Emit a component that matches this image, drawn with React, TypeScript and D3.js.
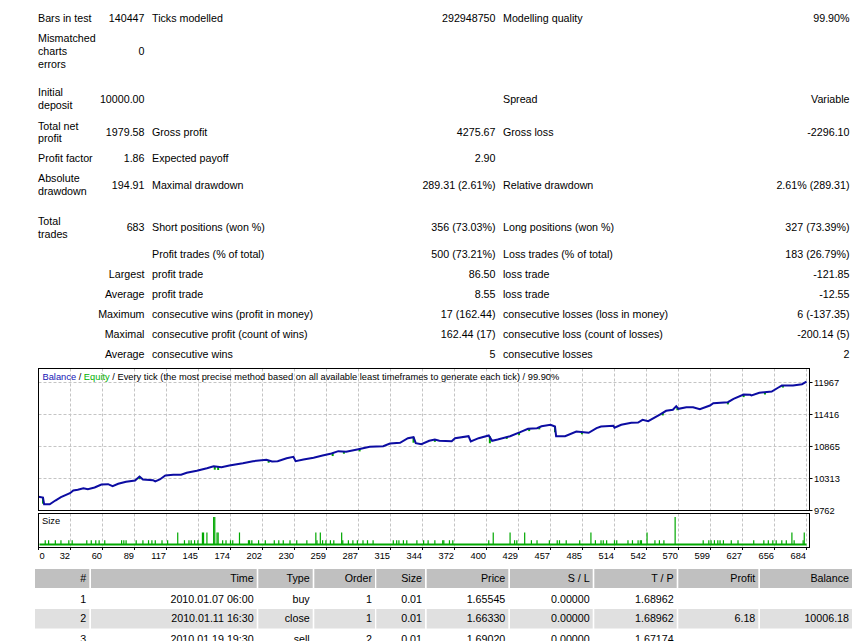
import React, { useEffect, useRef } from 'react';
import * as d3 from 'd3';

// report summary, one row per line of the header table
const statCells: string[][] = [
    ['Bars in test', '140447', 'Ticks modelled', '292948750', 'Modelling quality', '99.90%'],
    ['Mismatched\ncharts\nerrors', '0', '', '', '', ''],
    ['Initial\ndeposit', '10000.00', '', '', 'Spread', 'Variable'],
    ['Total net\nprofit', '1979.58', 'Gross profit', '4275.67', 'Gross loss', '-2296.10'],
    ['Profit factor', '1.86', 'Expected payoff', '2.90', '', ''],
    ['Absolute\ndrawdown', '194.91', 'Maximal drawdown', '289.31 (2.61%)', 'Relative drawdown', '2.61% (289.31)'],
    ['Total\ntrades', '683', 'Short positions (won %)', '356 (73.03%)', 'Long positions (won %)', '327 (73.39%)'],
    ['', '', 'Profit trades (% of total)', '500 (73.21%)', 'Loss trades (% of total)', '183 (26.79%)'],
    ['', 'Largest', 'profit trade', '86.50', 'loss trade', '-121.85'],
    ['', 'Average', 'profit trade', '8.55', 'loss trade', '-12.55'],
    ['', 'Maximum', 'consecutive wins (profit in money)', '17 (162.44)', 'consecutive losses (loss in money)', '6 (-137.35)'],
    ['', 'Maximal', 'consecutive profit (count of wins)', '162.44 (17)', 'consecutive loss (count of losses)', '-200.14 (5)'],
    ['', 'Average', 'consecutive wins', '5', 'consecutive losses', '2'],
];

// balance after trade #n  [trade, balance]
const balancePoints: [number, number][] = [
    [0, 10000], [4, 9985], [5, 9869], [10, 9870], [15, 9934], [20, 9991], [28, 10060], [31, 10107],
    [35, 10119], [40, 10146], [44, 10129], [50, 10158], [56, 10210], [62, 10215], [66, 10181],
    [71, 10222], [78, 10256], [86, 10279], [90, 10348], [93, 10296], [102, 10284], [104, 10262],
    [108, 10296], [113, 10365], [120, 10377], [127, 10377], [132, 10411], [141, 10446], [150, 10491],
    [156, 10525], [163, 10508], [170, 10537], [182, 10577], [191, 10611], [203, 10635], [208, 10606],
    [213, 10611], [221, 10663], [227, 10687], [229, 10611], [236, 10641], [245, 10670], [253, 10709],
    [261, 10744], [267, 10784], [274, 10773], [285, 10818], [295, 10859], [307, 10870], [313, 10916],
    [322, 10928], [329, 11007], [334, 11025], [336, 10921], [341, 10904], [348, 10963], [353, 10985],
    [357, 10963], [368, 10956], [371, 11008], [383, 11042], [385, 10951], [392, 11008], [401, 11054],
    [404, 10963], [409, 10985], [420, 11042], [429, 11111], [436, 11169], [444, 11180], [448, 11214],
    [456, 11238], [460, 11209], [461, 11042], [469, 11042], [479, 11123], [490, 11101], [497, 11180],
    [501, 11209], [512, 11221], [513, 11187], [519, 11238], [528, 11273], [534, 11278], [538, 11324],
    [543, 11300], [553, 11411], [559, 11480], [565, 11497], [568, 11559], [570, 11514], [577, 11542],
    [583, 11542], [589, 11507], [598, 11571], [601, 11610], [614, 11628], [619, 11686], [628, 11760],
    [634, 11755], [635, 11743], [642, 11790], [653, 11812], [659, 11881], [662, 11915], [672, 11915],
    [680, 11938], [684, 11980],
];

// equity drops below balance  [trade, from, to]
const equityDips: [number, number, number][] = [
    [4, 9985, 9880], [90, 10348, 10300], [157, 10520, 10465], [160, 10512, 10460], [205, 10630, 10585],
    [262, 10746, 10700], [272, 10778, 10740], [286, 10820, 10780], [334, 11025, 10930], [353, 10985, 10945],
    [402, 11040, 10920], [417, 11035, 10995], [428, 11100, 11060], [437, 11170, 11130], [446, 11195, 11160],
    [460, 11209, 11110], [484, 11115, 11075], [556, 11440, 11400], [569, 11540, 11490], [614, 11628, 11590],
    [628, 11760, 11715], [647, 11800, 11760], [663, 11915, 11880],
];

const minLot = 0.01;
// trades opened with more than the minimum lot  [trade, lots]
const sizeSpikes: [number, number][] = [
    [6, .02], [9, .02], [15, .02], [20, .02], [27, .02], [30, .02], [43, .02], [47, .02], [51, .02], [54, .02],
    [59, .02], [74, .02], [76, .02], [78, .02], [87, .02], [93, .02], [98, .02], [101, .02], [104, .02],
    [110, .02], [115, .02], [124, .04], [130, .02], [134, .02], [136, .02], [139, .02], [142, .02], [146, .04],
    [147, .04], [150, .04], [156, .08], [157, .08], [159, .04], [160, .04], [164, .02], [167, .02], [171, .02],
    [173, .02], [179, .04], [187, .02], [188, .02], [190, .02], [196, .02], [202, .02], [210, .02], [214, .02],
    [218, .02], [224, .02], [230, .02], [239, .02], [247, .04], [248, .02], [251, .04], [253, .02], [256, .02],
    [260, .02], [263, .02], [270, .04], [271, .02], [276, .02], [280, .02], [284, .02], [289, .02], [293, .02],
    [298, .02], [316, .02], [319, .02], [321, .02], [325, .02], [328, .02], [337, .02], [343, .02], [347, .02],
    [353, .02], [360, .02], [361, .02], [366, .02], [369, .02], [401, .02], [405, .04], [420, .04], [424, .02],
    [426, .02], [433, .04], [439, .02], [444, .02], [455, .02], [462, .02], [464, .02], [470, .02], [482, .02],
    [492, .04], [496, .02], [501, .02], [503, .02], [506, .02], [513, .02], [515, .02], [525, .02], [529, .02],
    [534, .02], [536, .02], [537, .02], [542, .04], [549, .02], [553, .02], [557, .02], [567, .08], [592, .02],
    [597, .02], [599, .02], [602, .02], [605, .02], [607, .02], [610, .02], [617, .02], [623, .02], [637, .02],
    [646, .02], [650, .02], [654, .02], [657, .02], [662, .02], [666, .02], [671, .04], [673, .02], [681, .02],
    [682, .04],
];

const xTickLabels = ['0', '32', '60', '89', '117', '145', '174', '202', '230', '259', '287', '315', '344',
    '372', '400', '429', '457', '485', '514', '542', '570', '599', '627', '656', '684'];
const yTicks = [9762, 10313, 10865, 11416, 11967];

const tableHeader = ['#', 'Time', 'Type', 'Order', 'Size', 'Price', 'S / L', 'T / P', 'Profit', 'Balance'];
const tableRows: string[][] = [
    ['1', '2010.01.07 06:00', 'buy', '1', '0.01', '1.65545', '0.00000', '1.68962', '', ''],
    ['2', '2010.01.11 16:30', 'close', '1', '0.01', '1.66330', '0.00000', '1.68962', '6.18', '10006.18'],
    ['3', '2010.01.19 19:30', 'sell', '2', '0.01', '1.69020', '0.00000', '1.67174', '', ''],
];

export default function App() {
    const ref = useRef<SVGSVGElement>(null);

    useEffect(() => {
        makeChart();
    }, []);

    const makeChart = () => {
        const svg = d3.select(ref.current);
        svg.selectAll('*').remove();
        const font = "'Liberation Sans', Arial, sans-serif";
        const fs = '10.7px';
        const chartFs = '9.3px';

        const addText = (x: number, y: number, s: string, anchor: string, size = fs) =>
            svg.append('text')
                .attr('x', x).attr('y', y).attr('dy', '0.35em')
                .attr('text-anchor', anchor)
                .attr('font-family', font).attr('font-size', size)
                .attr('fill', '#000')
                .text(s);

        // summary table
        const statX = [38, 144.5, 152, 495.5, 503, 849.5];
        const statAnchor = ['start', 'end', 'start', 'end', 'start', 'end'];
        const statY = [18, 51, 99, 132.3, 158.7, 185, 227.5, 254, 274, 294, 314, 334, 354];
        statCells.forEach((row, r) => {
            row.forEach((cell, c) => {
                if (!cell) return;
                const lines = cell.split('\n');
                lines.forEach((ln, i) => {
                    addText(statX[c], statY[r] + (i - (lines.length - 1) / 2) * 12.8, ln, statAnchor[c]);
                });
            });
        });

        // chart frame
        const left = 38.5, right = 809.5, top = 368.5, bottom = 510.5;
        const sTop = 513.5, sBottom = 547.5;

        const xPos = d3.scalePoint().domain(xTickLabels).range([38.5, 806.5]);
        const x = d3.scaleLinear().domain([0, 684]).range([38.5, 806.5]);
        const y = d3.scaleLinear().domain([9762, 11967]).range([510.5, 382.5]);
        const ys = d3.scaleLinear().domain([0.005, 0.08]).range([546, 517]);

        // grid
        const grid = svg.append('g')
            .attr('stroke', '#c4c4c4').attr('stroke-dasharray', '3,2').attr('stroke-width', 1);
        xTickLabels.slice(1).forEach((l) => {
            const gx = xPos(l)!;
            grid.append('line').attr('x1', gx).attr('x2', gx).attr('y1', top).attr('y2', bottom);
            grid.append('line').attr('x1', gx).attr('x2', gx).attr('y1', sTop).attr('y2', sBottom);
        });
        yTicks.slice(1).forEach((v) => {
            grid.append('line').attr('x1', left).attr('x2', right).attr('y1', y(v)).attr('y2', y(v));
        });

        // chart caption
        const cap = svg.append('text')
            .attr('x', 42.5).attr('y', 376.7).attr('dy', '0.35em')
            .attr('font-family', font).attr('font-size', chartFs);
        cap.append('tspan').attr('fill', '#1414b4').text('Balance');
        cap.append('tspan').attr('fill', '#000').text(' / ');
        cap.append('tspan').attr('fill', '#00b000').text('Equity');
        cap.append('tspan').attr('fill', '#000')
            .text(' / Every tick (the most precise method based on all available least timeframes to generate each tick) / 99.90%');

        // equity dips
        svg.append('g').selectAll('line')
            .data(equityDips)
            .enter()
            .append('line')
                .attr('x1', (d) => x(d[0])).attr('x2', (d) => x(d[0]))
                .attr('y1', (d) => y(d[1])).attr('y2', (d) => y(d[2]))
                .attr('stroke', '#00a800').attr('stroke-width', 2);

        // balance line
        svg.append('path')
            .datum(balancePoints)
            .attr('fill', 'none')
            .attr('stroke', '#0c0ca2')
            .attr('stroke-width', 2)
            .attr('d', d3.line<[number, number]>()
                .x((d) => x(d[0]))
                .y((d) => y(d[1])));

        // frames
        svg.append('rect')
            .attr('x', left).attr('y', top).attr('width', right - left).attr('height', bottom - top)
            .attr('fill', 'none').attr('stroke', '#000');
        svg.append('rect')
            .attr('x', left).attr('y', sTop).attr('width', right - left).attr('height', sBottom - sTop)
            .attr('fill', 'none').attr('stroke', '#000');

        // y axis on the right
        yTicks.forEach((v) => {
            svg.append('line').attr('x1', right).attr('x2', right + 3).attr('y1', y(v)).attr('y2', y(v))
                .attr('stroke', '#000');
            addText(814, y(v) + 0.5, String(v), 'start', chartFs);
        });

        // size panel
        addText(42, 521, 'Size', 'start', chartFs);
        svg.append('line')
            .attr('x1', x(0) + 1).attr('x2', x(684))
            .attr('y1', ys(minLot) + 0.5).attr('y2', ys(minLot) + 0.5)
            .attr('stroke', '#00a800').attr('stroke-width', 2);
        svg.append('g').selectAll('line')
            .data(sizeSpikes)
            .enter()
            .append('line')
                .attr('x1', (d) => x(d[0])).attr('x2', (d) => x(d[0]))
                .attr('y1', ys(minLot)).attr('y2', (d) => ys(d[1]))
                .attr('stroke', '#00a800').attr('stroke-width', 1.2);

        // x axis
        xTickLabels.forEach((l, i) => {
            const tx = xPos(l)!;
            svg.append('line').attr('x1', tx).attr('x2', tx).attr('y1', sBottom).attr('y2', sBottom + 2.5)
                .attr('stroke', '#000');
            if (i === 0) addText(tx + 1, 555.5, l, 'start', chartFs);
            else addText(tx - 0.5, 555.5, l, 'end', chartFs);
        });

        // trade table
        const cols: [number, number][] = [[35, 89.3], [91, 256.7], [258.3, 312.7], [314.3, 375], [376.3, 425],
            [426.7, 508.3], [510, 592.7], [594.3, 676.7], [678.3, 758.3], [760, 852]];
        const rowTop = [569, 589, 609, 629];
        const rowH = [19, 20, 19.5, 20];
        const rowFill = ['#c0c0c0', '#ffffff', '#e0e0e0', '#ffffff'];
        const allRows = [tableHeader, ...tableRows];
        allRows.forEach((row, r) => {
            cols.forEach((c, ci) => {
                svg.append('rect')
                    .attr('x', c[0]).attr('y', rowTop[r]).attr('width', c[1] - c[0]).attr('height', rowH[r])
                    .attr('fill', rowFill[r]);
                if (row[ci]) addText(c[1] - 3, rowTop[r] + rowH[r] / 2, row[ci], 'end');
            });
        });
    };

    return (
        <svg ref={ref} width={856} height={641}
            style={{ position: 'absolute', left: 0, top: 0, background: '#fff' }} />
    );
}
